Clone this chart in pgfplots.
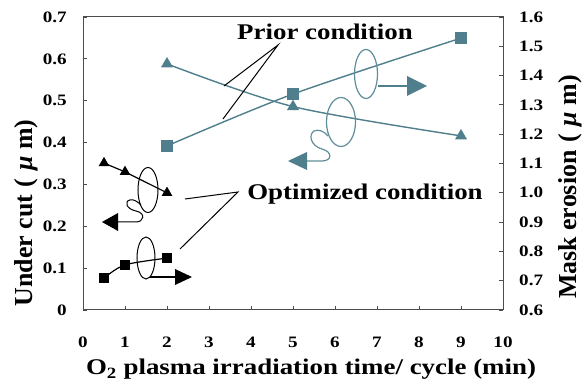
\documentclass[border=0pt]{standalone}
\usepackage{pgfplots}
\pgfplotsset{compat=1.18}
\usepackage{fontspec}
\setmainfont{Liberation Serif}[FakeStretch=1.2]
\newfontfamily\labfont{Liberation Serif}
\definecolor{teal1}{HTML}{4F7E8C}
\definecolor{teal2}{HTML}{5F8D99}
\begin{document}
\begin{tikzpicture}
\useasboundingbox (0,0) rectangle (585bp,382bp);
\pgfplotsset{every axis/.append style={at={(83bp,72bp)},anchor=south west,
  width=420bp,height=293bp,scale only axis,xmin=0,xmax=10,
  axis line style={draw=black!70,line width=1bp},
  major tick length=4bp,
  every tick/.style={black!70,line width=0.8bp},
  tick label style={font=\fontsize{16}{16}\selectfont\bfseries,inner sep=0pt},
  /pgf/number format/assume math mode=true}}
\begin{axis}[ymin=0,ymax=0.7,
  xtick={0,1,2,3,4,5,6,7,8,9,10},
  ytick={0,0.1,0.2,0.3,0.4,0.5,0.6,0.7},
  yticklabels={0,0.1,0.2,0.3,0.4,0.5,0.6,0.7},
  xtick pos=left, ytick pos=left, tick align=inside,
  xticklabel style={anchor=north,yshift=-27bp},
  yticklabel style={anchor=east,xshift=-16bp}]
\addplot[teal1,line width=1.4bp,smooth,mark=triangle*,mark size=5.5bp,
  mark options={fill=teal1,draw=teal1}] coordinates {(2,0.588)(5,0.486)(9,0.416)};
\addplot[black,line width=1.2bp,mark=triangle*,mark size=5bp,
  mark options={fill=black}] coordinates {(0.5,0.351)(1,0.330)(2,0.280)};
\end{axis}
\begin{axis}[ymin=0.6,ymax=1.6,axis x line=none,axis y line*=right,
  ytick={0.6,0.7,0.8,0.9,1.0,1.1,1.2,1.3,1.4,1.5,1.6},
  yticklabels={0.6,0.7,0.8,0.9,1.0,1.1,1.2,1.3,1.4,1.5,1.6},
  tick align=inside,
  yticklabel style={anchor=west,xshift=16bp}]
\addplot[teal1,line width=1.4bp,smooth,mark=square*,mark size=5bp,
  mark options={fill=teal1,draw=teal1}] coordinates {(2,1.160)(5,1.337)(9,1.528)};
\addplot[black,line width=1.2bp,smooth,mark=square*,mark size=4.5bp,
  mark options={fill=black}] coordinates {(0.5,0.709)(1,0.754)(2,0.777)};
\end{axis}
\begin{scope}[yshift=382bp,x=1bp,y=-1bp]
\node[font=\fontsize{22.5}{22.5}\selectfont\bfseries,anchor=base] at (325,40) {Prior condition};
\node[font=\fontsize{22.5}{22.5}\selectfont\bfseries,anchor=base] at (365,200) {Optimized condition};
\node[font=\fontsize{22.5}{22.5}\selectfont\bfseries,anchor=base] at (311,375) {O\textsubscript{2} plasma irradiation time/ cycle (min)};
\node[font=\labfont\fontsize{26}{26}\selectfont\bfseries,anchor=base,rotate=90] at (32,213)
  {Under cut\hspace{0.3em}(\hspace{0.3em}{\itshape μ}\hspace{0.25em}m)};
\node[font=\labfont\fontsize{26}{26}\selectfont\bfseries,anchor=base,rotate=90] at (576,187)
  {Mask erosion\hspace{0.3em}(\hspace{0.3em}{\itshape μ}\hspace{0.25em}m)};
% leader lines
\draw[black,line width=1bp] (224,86) -- (278,45) -- (223,119);
\draw[black,line width=1bp] (185,199) -- (238,192) -- (180,249);
% prior annotations
\draw[teal2,line width=1.2bp] (366,74) ellipse [x radius=11.5bp,y radius=24.5bp];
\draw[teal2,line width=1.2bp] (341,122) ellipse [x radius=14.5bp,y radius=24.5bp];
\draw[teal1,line width=1.2bp] (378,86) -- (409,86);
\fill[teal1] (427,86) -- (407,76) -- (407,96) -- cycle;
\draw[teal2,line width=1.2bp] (305,161) -- (322,161) .. controls (332,161) and (333,152) .. (322,149)
  .. controls (311,146) and (308,135) .. (314,131) .. controls (318,129) and (324,131) .. (328,136);
\fill[teal1] (288,161) -- (307,152) -- (307,170) -- cycle;
% optimized annotations
\draw[black,line width=1bp] (148,190) ellipse [x radius=10bp,y radius=22.5bp];
\draw[black,line width=1bp] (146,258) ellipse [x radius=9bp,y radius=21bp];
\draw[black,line width=1.2bp] (150,277) -- (177,277);
\fill[black] (192,277) -- (175,269) -- (175,285) -- cycle;
\draw[black,line width=1bp] (116,222) -- (136,222) .. controls (144,222) and (146,213) .. (136,211)
  .. controls (126,209) and (124,201) .. (130,200) .. controls (134,199) and (138,202) .. (141,205);
\fill[black] (102,222) -- (118,213) -- (118,231) -- cycle;
\end{scope}
\end{tikzpicture}
\end{document}
